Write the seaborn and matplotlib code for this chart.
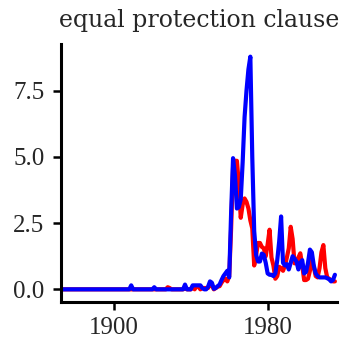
import matplotlib
matplotlib.use("Agg")
import matplotlib.pyplot as plt
import seaborn as sns
import pandas as pd
import numpy as np

title = "equal protection clause"
start_year = 1873
end_year = 2015

red_values = (
    [0.0] * 7            # 1873-1879
    + [0.0] * 40         # 1880-1919
    + [0, 0, 0, 0, 0, 0, 0, 0, 0.08, 0.05]                       # 1920s
    + [0, 0, 0, 0, 0, 0, 0, 0.05, 0, 0]                          # 1930s
    + [0, 0.1, 0, 0.12, 0.1, 0, 0.05, 0.05, 0.05, 0.05]          # 1940s
    + [0.2, 0.15, 0, 0.05, 0.1, 0.12, 0.25, 0.35, 0.4, 0.3]      # 1950s
    + [0.5, 2.3, 4.6, 4.85, 4.85, 4.0, 2.7, 3.2, 3.43, 3.3]      # 1960s
    + [3.05, 2.6, 2.3, 0.9, 1.3, 1.75, 1.75, 1.6, 1.55, 1.25]    # 1970s
    + [1.7, 2.25, 1.2, 0.9, 0.4, 0.5, 0.85, 0.8, 0.7, 0.9]       # 1980s
    + [1.2, 1.55, 2.36, 1.9, 0.98, 1.0, 1.2, 1.36, 0.9, 0.35]    # 1990s
    + [0.35, 0.4, 0.7, 1.1, 0.85, 0.5, 0.45, 0.8, 1.4, 1.67]     # 2000s
    + [0.8, 0.45, 0.4, 0.35, 0.3, 0.3]                           # 2010-2015
)

blue_values = (
    [0.0] * 7            # 1873-1879
    + [0.0] * 20         # 1880-1899
    + [0, 0, 0, 0, 0, 0, 0, 0, 0, 0.15]                          # 1900s
    + [0.0] * 10                                                 # 1910s
    + [0, 0.08, 0, 0, 0, 0, 0, 0, 0, 0]                          # 1920s
    + [0, 0, 0, 0, 0, 0, 0, 0.18, 0, 0]                          # 1930s
    + [0, 0.15, 0.15, 0.15, 0.15, 0.15, 0.05, 0, 0, 0.1]         # 1940s
    + [0.3, 0.25, 0.02, 0.05, 0.12, 0.18, 0.35, 0.5, 0.6, 0.7]   # 1950s
    + [0.45, 2.9, 4.95, 4.3, 3.05, 3.1, 3.4, 4.8, 6.5, 7.5]      # 1960s
    + [8.3, 8.78, 5.0, 2.2, 1.3, 1.05, 1.05, 1.35, 1.3, 1.0]     # 1970s
    + [0.6, 0.55, 0.55, 0.5, 0.6, 1.1, 1.8, 2.75, 1.0, 0.9]      # 1980s
    + [0.95, 0.75, 1.0, 1.25, 1.15, 1.05, 0.75, 1.0, 1.1, 0.6]   # 1990s
    + [0.66, 1.0, 1.5, 1.4, 0.9, 0.6, 0.5, 0.45, 0.45, 0.45]     # 2000s
    + [0.45, 0.42, 0.38, 0.3, 0.35, 0.55]                        # 2010-2015
)

years = list(range(start_year, end_year + 1))
x_ticks = [1900, 1980]
y_ticks = [0.0, 2.5, 5.0, 7.5]

df = pd.DataFrame({
    "year": years * 2,
    "value": red_values + blue_values,
    "series": ["red"] * len(years) + ["blue"] * len(years),
})

sns.set_style("ticks")
plt.rcParams["font.family"] = ["Liberation Serif", "DejaVu Serif"]
plt.rcParams["axes.linewidth"] = 2.2

fig = plt.figure(figsize=(3.43, 3.46), dpi=100)
ax = fig.add_axes([0.178, 0.127, 0.804, 0.746])

sns.lineplot(data=df, x="year", y="value", hue="series",
             palette={"red": "#ff0000", "blue": "#0000ff"},
             linewidth=3.0, legend=False, ax=ax)

ax.set_xlim(1872.5, 2016)
ax.set_ylim(-0.48, 9.26)
ax.set_xticks(x_ticks)
ax.set_xticklabels([str(t) for t in x_ticks])
ax.set_yticks(y_ticks)
ax.set_yticklabels([f"{t:.1f}" for t in y_ticks])
ax.tick_params(axis="both", length=6, width=1.8, labelsize=18, color="black")
ax.tick_params(axis="y", pad=6)
ax.tick_params(axis="x", pad=5)
ax.set_xlabel("")
ax.set_ylabel("")
for s in ["left", "bottom"]:
    ax.spines[s].set_color("black")
sns.despine(ax=ax)
ax.set_title(title, fontsize=17, pad=12, family=["DejaVu Serif"])

fig.savefig("out.png", dpi=100)
